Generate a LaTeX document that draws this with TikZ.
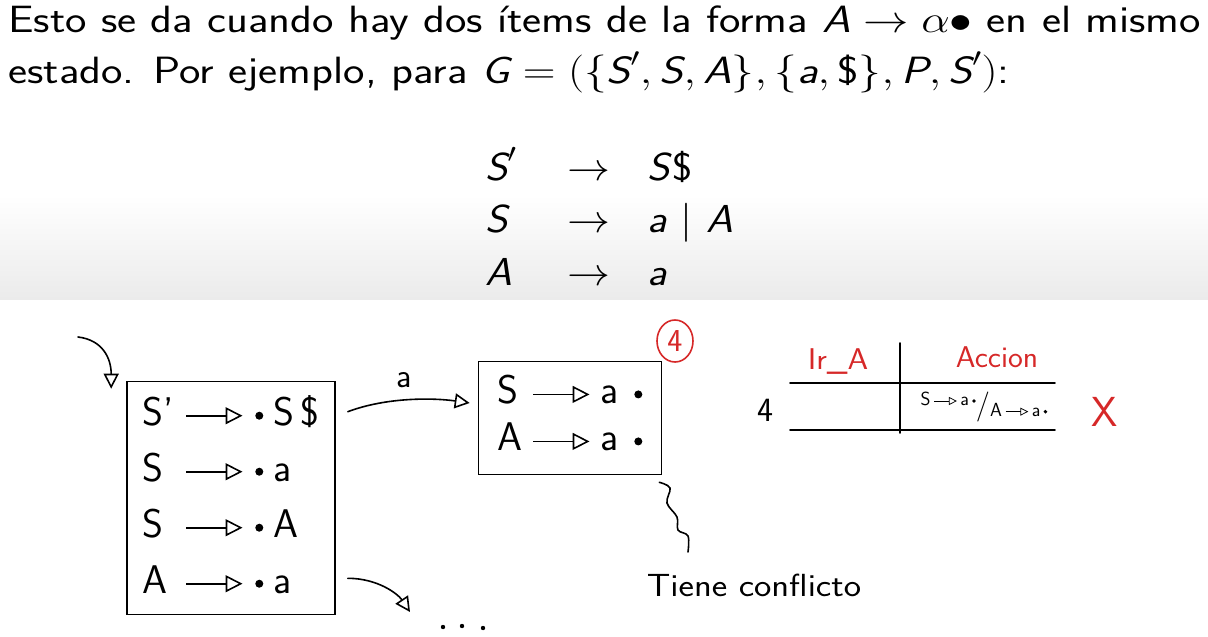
\RequirePackage{fix-cm}
\documentclass[tikz,border=0pt]{standalone}
\usepackage{fontspec}
\usepackage{amsmath}
\usetikzlibrary{arrows.meta,positioning,shapes.geometric}
\definecolor{penRed}{HTML}{D62828}
\definecolor{bandGray}{HTML}{EBEBEB}
\newcommand{\mv}[1]{\textsf{\itshape #1}}
\newcommand{\hsz}[2]{\sffamily\fontsize{#1}{#2}\selectfont}
% hand drawn dot and arrow used inside the items
\newcommand{\hdot}{\tikz[baseline=-0.55ex]\fill (0,0) circle (0.1em);}
\newcommand{\harr}[1][1.4em]{\tikz[baseline=-0.55ex]\draw[line width=0.04em,-{Triangle[open,length=0.42em,width=0.42em,line width=0.04em]}] (0,0) -- (#1,0);}

\begin{document}
\begin{tikzpicture}[x=1pt, y=-1pt,
  estado/.style={draw, line width=1.6pt, inner sep=0pt},
  pen/.style={line width=1.6pt, line cap=round},
  harrow/.style={pen, -{Triangle[open, length=15pt, width=15pt, line width=1.6pt]}},
  slide/.style={anchor=base west, inner sep=0pt, font=\hsz{38}{52.5}},
  rojo/.style={text=penRed, inner sep=0pt}
]
\useasboundingbox (0,0) rectangle (1208,637);
\shade[top color=white, bottom color=bandGray] (0,195) rectangle (1208,299);

% slide text
\node[slide, xscale=1.195] (t1) at (8,32) {Esto se da cuando hay dos ítems de la forma $\mv{A} \rightarrow \alpha\bullet$ en el mismo};
\node[slide, xscale=1.195] (t2) at (8,83) {estado. Por ejemplo, para $\mv{G} = (\{\mv{S}', \mv{S}, \mv{A}\}, \{\mv{a}, \textsf{\$}\}, \mv{P}, \mv{S}')$:};
\node[slide, font=\hsz{39}{52.5}, xscale=1.1] (gram) at (485,180) {\begin{tabular}[t]{@{}l@{\hspace{46pt}}c@{\hspace{34pt}}l@{}}
  $\mv{S}'$ & $\rightarrow$ & \mv{S}\textsf{\$}\\
  \mv{S} & $\rightarrow$ & \mv{a} $|$ \mv{A}\\
  \mv{A} & $\rightarrow$ & \mv{a}
\end{tabular}};

% states
\node[estado, minimum width=208, minimum height=233, font=\hsz{40}{56}] (s0) at (231,498)
  {\begin{tabular}{@{}l@{\hspace{12pt}}c@{\hspace{12pt}}c@{\hspace{10pt}}l@{}}
    S' & \harr & \hdot & S\,\$\\
    S & \harr & \hdot & a\\
    S & \harr & \hdot & A\\
    A & \harr & \hdot & a
  \end{tabular}};
\node[estado, minimum width=183, minimum height=113, font=\hsz{40}{47}] (s4) at (570,418)
  {\begin{tabular}{@{}l@{\hspace{10pt}}c@{\hspace{10pt}}l@{\hspace{16pt}}l@{}}
    S & \harr & a & \hdot\\
    A & \harr & a & \hdot
  \end{tabular}};
\node[ellipse, draw=penRed, rojo, line width=1.6pt, minimum width=36, minimum height=42, font=\hsz{32}{32}] (n4) at (675,341) {4};

% transitions
\coordinate (ini) at (78,337);
\coordinate (sig) at (410,612);
\draw[harrow] (ini) .. controls +(25,3) and +(0,-30) .. ([shift={(-15,8)}]s0.north west);
\draw[harrow] ([shift={(12,31)}]s0.north east) .. controls +(40,-15) and +(-35,-5) .. ([shift={(-8,-15)}]s4.west)
  node[pos=0.45, above=8pt, font=\hsz{34}{34}] (la) {a};
\draw[harrow] ([shift={(12,-37)}]s0.south east) .. controls +(30,0) and +(-12,-18) .. (sig);
\foreach \x/\y in {443/627, 462/626, 483/628}
  \fill (\x,\y) circle (2.2);

% conflict note
\node[font=\hsz{32}{32}, xscale=1.15, inner sep=0pt] (conf) at (754,585) {Tiene conflicto};
\coordinate (sq0) at ([shift={(-3,7)}]s4.south east);
\draw[pen] plot[smooth, tension=0.6] coordinates {(sq0) (670,488) (667,503) (677,517) (678,530) (688,536) (688,552)};

% table for state 4
\draw[pen] (900,343) -- (900,433);
\draw[pen] (790,383) -- (1055,383);
\draw[pen] (790,430) -- (1055,430);
\node[rojo, font=\hsz{30}{30}, xscale=1.1] (irA) at (838,362) {Ir\_A};
\node[rojo, font=\hsz{30}{30}, xscale=1.05] (acc) at (997,357) {Accion};
\node[inner sep=0pt, font=\hsz{34}{34}] (r4) at (765,410) {4};
\node[inner sep=0pt, font=\hsz{19}{19}] (cel) at (984,407)
  {S\,\harr[1.2em]\,a\,\hdot\raisebox{-1.1ex}{\hsz{30}{30}/}\raisebox{-1.3ex}{A\,\harr[1.2em]\,a\,\hdot}};
\node[rojo, font=\hsz{42}{42}] (cruz) at (1105,412) {X};
\end{tikzpicture}
\end{document}
